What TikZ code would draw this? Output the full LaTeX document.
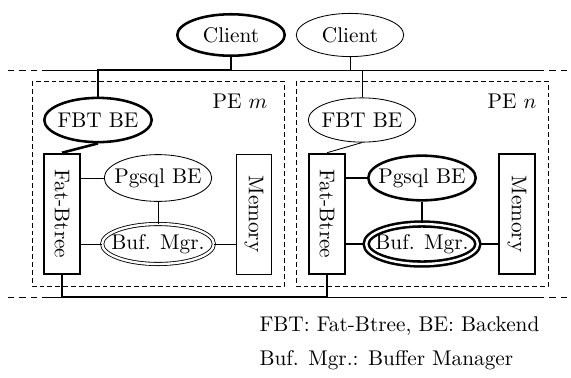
\documentclass[tikz,border=0pt]{standalone}
\usetikzlibrary{shapes.geometric}
\newcommand{\tightlbl}[1]{\makebox[0pt]{#1}}
\begin{document}
\begin{tikzpicture}[x=0.47pt,y=0.47pt,yscale=-1,xscale=1,
  ell/.style={ellipse,draw,inner sep=0pt,minimum width=50.5pt,minimum height=20.8pt},
  bufmgr/.style={ellipse,draw,double,double distance=1.1pt,inner sep=0pt,minimum width=52.5pt,minimum height=18.8pt},
  unitbox/.style={rectangle,draw,inner sep=0pt,minimum width=16.8pt,minimum height=56.4pt},
  heavy/.style={line width=1.2pt},
  lan/.style={dash pattern=on 3pt off 2.3pt},
  pebox/.style={dash pattern=on 2.3pt off 1.4pt}]
\useasboundingbox (0,0) rectangle (571,377);
% LAN lines
\coordinate (lantop) at (8,70);
\coordinate (lanbot) at (8,297);
\draw [lan] (8,70) -- (42,70);
\draw (42,70) -- (538,70);
\draw [lan] (538,70) -- (568,70);
\draw [lan] (8,297) -- (42,297);
\draw (42,297) -- (538,297);
\draw [lan] (538,297) -- (568,297);
% PE boxes
\draw [pebox] (32,81) rectangle (284,286);
\draw [pebox] (296,81) rectangle (548,286);
\draw (240,101) node {PE $m$};
\draw (512,101) node {PE $n$};
% Clients
\node [ell,heavy,minimum height=19.5pt] (clim) at (231,35) {\tightlbl{Client}};
\node [ell,minimum height=20.3pt] (clin) at (350,35) {\tightlbl{Client}};
% PE m
\node [ell,heavy] (fbem) at (98,120) {\tightlbl{FBT BE}};
\node [unitbox,heavy] (fbtm) at (62,214) {\rotatebox{-90}{Fat-Btree}};
\node [ell,minimum height=22pt] (pgm) at (158,178) {\tightlbl{Pgsql BE}};
\node [bufmgr] (bufm) at (158,244) {\tightlbl{Buf. Mgr.}};
\node [unitbox] (memm) at (254,214) {\rotatebox{-90}{Memory}};
% PE n
\node [ell] (fben) at (362,120) {\tightlbl{FBT BE}};
\node [unitbox,heavy] (fbtn) at (327,214) {\rotatebox{-90}{Fat-Btree}};
\node [ell,heavy,minimum height=21pt] (pgn) at (422,178) {\tightlbl{Pgsql BE}};
\node [bufmgr,heavy] (bufn) at (422,244) {\tightlbl{Buf. Mgr.}};
\node [unitbox,heavy] (memn) at (517,214) {\rotatebox{-90}{Memory}};
% connections
\draw [heavy] (clim.south) |- (fbem.north |- lantop) -- (fbem.north);
\draw (clin.south) -- (clin.south |- lantop);
\draw (fben.north |- lantop) -- (fben.north);
\draw [heavy] (fbem.south) -- (fbtm.north);
\draw (fben.south) -- (fbtn.north);
\draw (pgm.west) -- (pgm.west -| fbtm.east);
\draw (bufm.west) -- (bufm.west -| fbtm.east);
\draw (pgm.south) -- (bufm.north);
\draw (bufm.east) -- (bufm.east -| memm.west);
\draw [heavy] (pgn.west) -- (pgn.west -| fbtn.east);
\draw [heavy] (bufn.west) -- (bufn.west -| fbtn.east);
\draw [heavy] (pgn.south) -- (bufn.north);
\draw [heavy] (bufn.east) -- (bufn.east -| memn.west);
\draw [heavy] (fbtm.south) -- (fbtm.south |- lanbot) -| (fbtn.south);
% legend
\node [anchor=west] (lgd1) at (252,326) {FBT: Fat-Btree, BE: Backend};
\node [anchor=west] (lgd2) at (252,360) {Buf. Mgr.: Buffer Manager};
\end{tikzpicture}
\end{document}
